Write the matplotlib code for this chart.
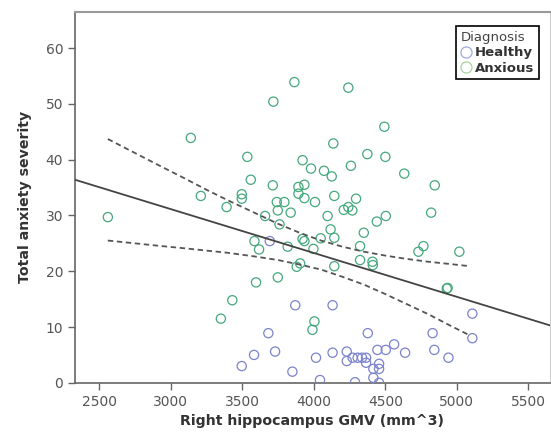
"""
Scatter of anxiety severity vs right hippocampus GMV, with regression line
and its confidence band.

Output: out.png
"""

import matplotlib.pyplot as plt
from matplotlib.lines import Line2D

# ------------------------------------------------------------------
# data
# ------------------------------------------------------------------
anxious_gmv = [2560, 3140, 3210, 3390, 3350, 3430, 3496, 3496, 3535, 3559,
               3585, 3617, 3596, 3659, 3713, 3717, 3741, 3794, 3748, 3760,
               3748, 3817, 3838, 3864, 3892, 3934, 3892, 3934, 3921, 3980,
               3921, 3934, 3880, 3904, 3997, 4008, 4048, 4071, 4125, 4096,
               4117, 4136, 4143, 4143, 4143, 4209, 4241, 4269, 4241, 4259,
               4295, 4323, 4323, 4349, 4374, 4410, 4412, 4440, 4503, 4493,
               4500, 4632, 4731, 4766, 4820, 4845, 4929, 4935, 5017, 4004,
               3990]
anxious_score = [29.7, 43.9, 33.5, 31.5, 11.5, 14.8, 33.8, 33.0, 40.5, 36.4,
                 25.4, 23.9, 18.0, 29.9, 35.4, 50.4, 32.4, 32.4, 30.9, 28.4,
                 18.9, 24.4, 30.5, 53.9, 35.1, 35.5, 33.9, 33.1, 39.9, 38.4,
                 25.8, 25.4, 20.8, 21.4, 24.0, 32.4, 25.9, 38.0, 37.0, 29.9,
                 27.5, 42.9, 33.5, 26.0, 20.9, 31.0, 31.5, 30.9, 52.9, 38.9,
                 33.0, 24.5, 22.0, 26.9, 41.0, 21.7, 21.1, 28.9, 29.9, 45.9,
                 40.5, 37.5, 23.5, 24.5, 30.5, 35.4, 16.9, 17.0, 23.5, 11.0,
                 9.5]

healthy_gmv = [3496, 3582, 3682, 3692, 3729, 3850, 3870, 4015, 4043, 4131,
               4131, 4230, 4230, 4271, 4306, 4337, 4365, 4365, 4377, 4416,
               4456, 4456, 4416, 4456, 4444, 4503, 4561, 4638, 4830, 4842,
               4941, 5108, 5108, 4288]
healthy_score = [3.0, 5.0, 8.9, 25.4, 5.6, 2.0, 13.9, 4.5, 0.5, 13.9,
                 5.4, 5.6, 3.9, 4.5, 4.5, 4.5, 4.5, 3.6, 8.9, 2.5,
                 3.4, 2.5, 0.9, 0.0, 5.9, 5.9, 6.9, 5.4, 8.9, 5.9,
                 4.5, 12.4, 8.0, 0.1]

# fitted line and confidence band
fit_x = [2330, 5650]
fit_y = [36.4, 10.3]
band_x = [2560, 2900, 3100, 3250, 3400, 3600, 3750, 3900,
          4050, 4200, 4350, 4500, 4650, 4800, 4950, 5090]
band_hi = [43.7, 39.2, 36.6, 34.6, 32.7, 30.3, 28.5, 26.9,
           25.5, 24.4, 23.5, 22.8, 22.2, 21.7, 21.3, 20.9]
band_lo = [25.5, 24.6, 24.1, 23.7, 23.3, 22.6, 22.0, 21.2,
           20.3, 19.0, 17.6, 15.9, 14.1, 12.3, 10.3, 8.5]

x_ticks = [2500, 3000, 3500, 4000, 4500, 5000, 5500]
y_ticks = [0, 10, 20, 30, 40, 50, 60]

GREEN = "#45a87c"
BLUE = "#7b83cc"


# ------------------------------------------------------------------
def main():
    fig = plt.figure(figsize=(5.51, 4.37), dpi=100)
    ax = fig.add_axes([0.136, 0.124, 0.862, 0.849])

    ax.scatter(healthy_gmv, healthy_score, s=44, facecolors="none",
               edgecolors=BLUE, linewidths=0.9, clip_on=True, zorder=3)
    ax.scatter(anxious_gmv, anxious_score, s=44, facecolors="none",
               edgecolors=GREEN, linewidths=0.9, clip_on=True, zorder=3)

    ax.plot(fit_x, fit_y, color="#444444", linewidth=1.3, zorder=4)
    ax.plot(band_x, band_hi, color="#555555", linewidth=1.3,
            linestyle=(0, (3, 2)), zorder=4)
    ax.plot(band_x, band_lo, color="#555555", linewidth=1.3,
            linestyle=(0, (3, 2)), zorder=4)

    ax.set_xlim(2330, 5650)
    ax.set_ylim(0, 66.5)
    ax.set_xticks(x_ticks)
    ax.set_yticks(y_ticks)

    ax.tick_params(direction="out", length=5, width=1, color="#666666",
                   labelcolor="#555555", labelsize=10)
    for side in ("left", "bottom"):
        ax.spines[side].set_color("#666666")
        ax.spines[side].set_linewidth(1.2)
    ax.spines["top"].set_color("#9a9a9a")
    ax.spines["top"].set_linewidth(1.5)
    ax.spines["right"].set_color("#cccccc")

    ax.set_xlabel("Right hippocampus GMV (mm^3)", fontsize=10.2,
                  fontweight="bold", color="#333333", labelpad=4)
    ax.set_ylabel("Total anxiety severity", fontsize=10.2,
                  fontweight="bold", color="#333333", labelpad=10)

    # legend with faded marker colours, as in the original
    handles = [
        Line2D([], [], marker="o", linestyle="none", markersize=8,
               markerfacecolor="none", markeredgecolor="#a3a8dd",
               markeredgewidth=0.9, label="Healthy"),
        Line2D([], [], marker="o", linestyle="none", markersize=8,
               markerfacecolor="none", markeredgecolor="#a8d49c",
               markeredgewidth=0.9, label="Anxious"),
    ]
    leg = ax.legend(handles=handles, title="Diagnosis", loc="upper right",
                    bbox_to_anchor=(0.977, 0.962), borderaxespad=0,
                    fancybox=False, edgecolor="black", framealpha=1,
                    fontsize=9.5, title_fontsize=9.5, handlelength=0.8,
                    handletextpad=0.3, borderpad=0.35, labelspacing=0.2,
                    alignment="left")
    leg.get_frame().set_linewidth(1.2)
    leg.get_title().set_color("#444444")
    for t in leg.get_texts():
        t.set_color("#333333")
        t.set_fontweight("bold")

    fig.savefig("out.png", dpi=100)
    plt.close(fig)


if __name__ == "__main__":
    main()
